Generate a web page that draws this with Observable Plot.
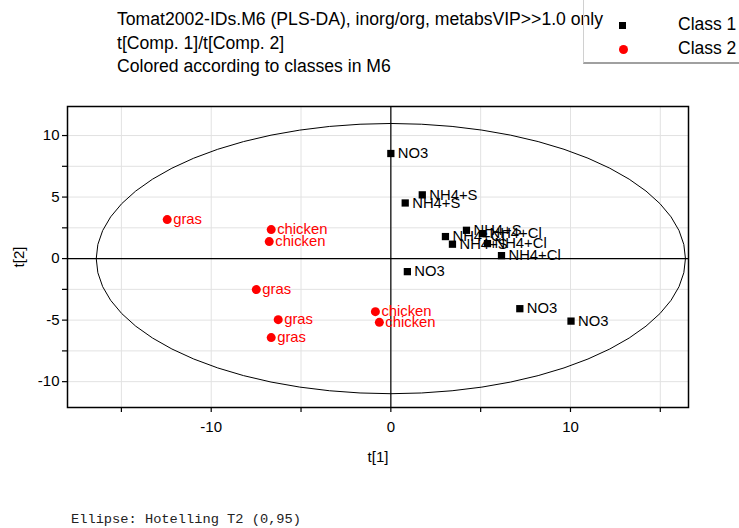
<!DOCTYPE html>
<html>
<head>
<meta charset="utf-8">
<script src="https://cdn.jsdelivr.net/npm/d3@7"></script>
<script src="https://cdn.jsdelivr.net/npm/@observablehq/plot@0.6"></script>
<style>
  html, body { margin: 0; padding: 0; background: #fff; }
  #wrap { position: relative; width: 739px; height: 528px; overflow: hidden; font-family: "Liberation Sans", Arial, sans-serif; }
  #chart { position: absolute; left: 0; top: 0; }
  #title { position: absolute; left: 117px; top: 8px; font-size: 17.6px; line-height: 23.5px; color: #000; white-space: nowrap; }
  #legend { position: absolute; left: 583px; top: -2px; width: 170px; height: 66px; border-left: 1px solid #d0d0d0; border-top: 1px solid #d0d0d0; border-bottom: 2px solid #a0a0a0; box-sizing: border-box; }
  .lg-item { position: absolute; left: 0; font-size: 17.5px; color: #000; white-space: nowrap; }
  .lg-sym { position: absolute; }
  #caption { position: absolute; left: 71px; top: 512px; font-family: "Liberation Mono", "Courier New", monospace; font-size: 13.7px; color: #222; white-space: nowrap; }
</style>
</head>
<body>
<div id="wrap">
  <div id="chart"></div>
  <div id="title"></div>
  <div id="legend"></div>
  <div id="caption"></div>
</div>
<script>
// ---- Text ----
const titleLines = [
  "Tomat2002-IDs.M6 (PLS-DA), inorg/org, metabsVIP>>1.0 only",
  "t[Comp. 1]/t[Comp. 2]",
  "Colored according to classes in M6"
];
const captionText = "Ellipse: Hotelling T2 (0,95)";
const xLabel = "t[1]";
const yLabel = "t[2]";
const classNames = ["Class 1", "Class 2"];
const classColors = ["#000000", "#ff0000"];

// ---- Class 1 (black squares) ----
const class1Labels = ["NO3", "NH4+S", "NH4+S", "NH4+S", "NH4+Cl", "NH4+Cl", "NH4+S", "NH4+Cl", "NH4+Cl", "NO3", "NO3", "NO3"];
const class1T1 = [0.0, 1.75, 0.80, 4.21, 3.04, 5.10, 3.43, 5.38, 6.16, 0.92, 7.18, 10.03];
const class1T2 = [8.54, 5.18, 4.52, 2.30, 1.79, 2.03, 1.17, 1.22, 0.24, -1.06, -4.07, -5.08];

// ---- Class 2 (red circles) ----
const class2Labels = ["gras", "chicken", "chicken", "gras", "chicken", "chicken", "gras", "gras"];
const class2T1 = [-12.45, -6.66, -6.77, -7.49, -0.86, -0.64, -6.27, -6.66];
const class2T2 = [3.17, 2.36, 1.38, -2.52, -4.31, -5.18, -4.96, -6.42];

// ---- Hotelling T2 (0.95) ellipse semi-axes ----
const ellipseA = 16.4;
const ellipseB = 10.98;

// ---- Axes ----
const xDomain = [-18.0, 16.57];
const yDomain = [-12.1, 12.36];
const xTicks = [-15, -10, -5, 0, 5, 10, 15];
const xTickLabels = [-10, 0, 10];
const yTicks = [-10, -7.5, -5, -2.5, 0, 2.5, 5, 7.5, 10];
const yTickLabels = [-10, -5, 0, 5, 10];

// build tables
const class1 = class1Labels.map((l, i) => ({label: l, t1: class1T1[i], t2: class1T2[i]}));
const class2 = class2Labels.map((l, i) => ({label: l, t1: class2T1[i], t2: class2T2[i]}));
const ellipse = d3.range(0, 61).map(i => {
  const a = (i / 60) * 2 * Math.PI;
  return {t1: ellipseA * Math.cos(a), t2: ellipseB * Math.sin(a)};
});

const fmt = d => String(d);
const fontFam = "Liberation Sans, Arial, sans-serif";

const chart = Plot.plot({
  width: 739,
  height: 528,
  marginLeft: 67,
  marginRight: 51,
  marginTop: 106,
  marginBottom: 121,
  style: {fontFamily: fontFam, fontSize: "15px", color: "#000", background: "transparent"},
  x: {domain: xDomain},
  y: {domain: yDomain},
  marks: [
    Plot.gridX(xTicks, {stroke: "#e2e2e2", strokeOpacity: 1}),
    Plot.gridY(yTicks, {stroke: "#e2e2e2", strokeOpacity: 1}),
    Plot.ruleX([0], {stroke: "#000", strokeWidth: 1.2}),
    Plot.ruleY([0], {stroke: "#000", strokeWidth: 1.2}),
    Plot.line(ellipse, {x: "t1", y: "t2", stroke: "#000", strokeWidth: 1}),
    Plot.axisX(xTicks, {tickSize: 5, tickFormat: () => "", label: null, strokeWidth: 1.2}),
    Plot.axisX(xTickLabels, {tickSize: 0, tickPadding: 14, tickFormat: fmt, label: xLabel, labelAnchor: "center", labelArrow: "none", labelOffset: 54, fontSize: 15}),
    Plot.axisY(yTicks, {tickSize: 5, tickFormat: () => "", label: null, strokeWidth: 1.2}),
    Plot.axisY(yTickLabels, {tickSize: 0, tickPadding: 8, tickFormat: fmt, label: yLabel, labelAnchor: "center", labelArrow: "none", labelOffset: 54, fontSize: 15}),
    Plot.frame({stroke: "#000", strokeWidth: 1.5}),
    Plot.dot(class1, {x: "t1", y: "t2", symbol: "square", r: 4.1, fill: classColors[0], stroke: "none"}),
    Plot.text(class1, {x: "t1", y: "t2", text: "label", textAnchor: "start", dx: 7, fill: classColors[0], fontSize: 14.8}),
    Plot.dot(class2, {x: "t1", y: "t2", symbol: "circle", r: 4.5, fill: classColors[1], stroke: "none"}),
    Plot.text(class2, {x: "t1", y: "t2", text: "label", textAnchor: "start", dx: 6, fill: classColors[1], fontSize: 14.8})
  ]
});
document.getElementById("chart").appendChild(chart);

// title
document.getElementById("title").innerHTML = titleLines.map(t => `<div>${t.replace(/&/g,"&amp;").replace(/</g,"&lt;").replace(/>/g,"&gt;")}</div>`).join("");
// caption
document.getElementById("caption").textContent = captionText;

// legend
const legend = document.getElementById("legend");
const lgY = [26, 50];
classNames.forEach((name, i) => {
  const sym = document.createElement("div");
  sym.className = "lg-sym";
  if (i === 0) {
    sym.style.cssText = `left:35px;top:${lgY[i] - 3.5}px;width:7px;height:7px;background:${classColors[i]};`;
  } else {
    sym.style.cssText = `left:35px;top:${lgY[i] - 4.5}px;width:9px;height:9px;border-radius:50%;background:${classColors[i]};`;
  }
  legend.appendChild(sym);
  const txt = document.createElement("div");
  txt.className = "lg-item";
  txt.style.left = "94px";
  txt.style.top = (lgY[i] - 11) + "px";
  txt.textContent = name;
  legend.appendChild(txt);
});
</script>
</body>
</html>
